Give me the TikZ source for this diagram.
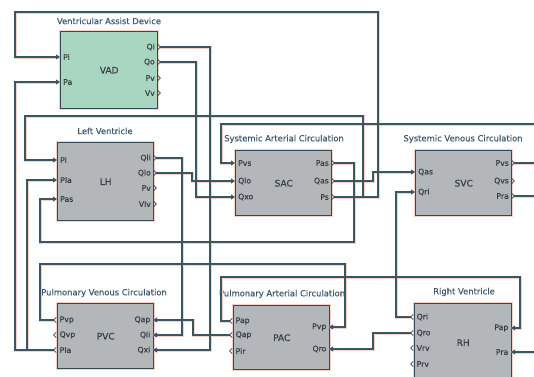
\documentclass[tikz,border=0pt]{standalone}
\usepackage{fontspec}
\setmainfont[FakeBold=0.3]{DejaVu Sans}
\usetikzlibrary{arrows.meta}

\definecolor{wirec}{HTML}{3A5662}
\definecolor{halo}{HTML}{F2D4CC}
\definecolor{blkgray}{HTML}{B4B7B9}
\definecolor{blkgreen}{HTML}{A8D6C0}
\definecolor{edgec}{HTML}{384850}
\definecolor{titlec}{HTML}{3F5A70}
\definecolor{labc}{HTML}{343C44}

% all signal lines of the model; drawn twice (halo pass, then line pass)
\newcommand{\wiring}{%
  % SAC Ps feeds the pressure inputs of VAD and LH
  \draw[wire] (sac-ps) -| (378,12) -| (15,57) -- (vad-pi);
  \draw[wire] (sac-ps) -| (363,116) -| (25,160) -- (lh-pi);
  % SAC -> LH, SAC -> SVC
  \draw[wire] (sac-pas) -| (354,242) -| (40,199) -- (lh-pas);
  \draw[wire] (sac-qas) -| (373,172) -- (svc-qas);
  % SVC outputs, routed round the right side
  \draw[wire] (svc-pvs) -| (545,124) -| (221,163) -- (sac-pvs);
  \draw[wire] (svc-pra) -| (545,352) -- (rh-pra);
  % RH -> SVC, RH -> PAC
  \draw[wire] (rh-qri) -| (396,192) -- (svc-qri);
  \draw[wire] (rh-qro) -| (373,349) -- (pac-qro);
  % PAC <-> RH, PVC <-> PAC
  \draw[wire] (pac-pap) -| (221,277) -| (520,328) -- (rh-pap);
  \draw[wire] (pvc-pvp) -| (40,264) -| (345,327) -- (pac-pvp);
  \draw[wire] (pac-qap) -| (193,320) -- (pvc-qap);
  % flows into PVC
  \draw[wire] (lh-qli) -| (182,335) -- (pvc-qli);
  \draw[wire] (vad-qi) -| (210,350) -- (pvc-qxi);
  % flows into SAC
  \draw[wire] (vad-qo) -| (196,197) -- (sac-qxo);
  \draw[wire] (lh-qlo) -| (192,181) -- (sac-qlo);
  % PVC Pla back to VAD and LH
  \draw[wire] (pvc-pla) -| (15,82) -- (vad-pa);
  \draw[wire] (pvc-pla) -| (27,180) -- (lh-pla);
}

\begin{document}
\begin{tikzpicture}[x=1pt,y=-1pt,
  blk/.style={draw=edgec, line width=1.4pt, fill=blkgray, anchor=north west,
    inner sep=0pt, text=labc, font=\fontsize{9}{10}\selectfont,
    preaction={draw=halo, line width=3pt}},
  blktitle/.style={text=titlec, inner sep=0pt, font=\fontsize{8.4}{9}\selectfont},
  plab/.style={text=labc, inner sep=0pt, font=\fontsize{7.7}{8}\selectfont},
  chev/.style={draw=edgec, line width=0.8pt},
  tip/.style={-{Triangle[length=4pt,width=4.8pt]}},
]
\useasboundingbox[fill=white] (0,0) rectangle (534,376);

% ---- blocks ----
\node[blk, fill=blkgreen, minimum width=97pt, minimum height=77pt] (vad) at (60,31) {VAD};
\node[blk, minimum width=96pt, minimum height=78pt] (lh)  at (57,142) {LH};
\node[blk, minimum width=96pt, minimum height=65pt] (sac) at (235,150) {SAC};
\node[blk, minimum width=96pt, minimum height=65pt] (svc) at (415,150) {SVC};
\node[blk, minimum width=96pt, minimum height=65pt] (pvc) at (57,303) {PVC};
\node[blk, minimum width=96pt, minimum height=64pt] (pac) at (233,305) {PAC};
\node[blk, minimum width=97pt, minimum height=78pt] (rh)  at (414,303) {RH};

% ---- block titles ----
\node[blktitle] (vad-title) at (109,21)  {Ventricular Assist Device};
\node[blktitle] (lh-title)  at (105,131) {Left Ventricle};
\node[blktitle] (sac-title) at (284,139) {Systemic Arterial Circulation};
\node[blktitle] (svc-title) at (463,139) {Systemic Venous Circulation};
\node[blktitle] (pvc-title) at (104,293) {Pulmonary Venous Circulation};
\node[blktitle] (pac-title) at (282,294) {Pulmonary Arterial Circulation};
\node[blktitle] (rh-title)  at (464,292) {Right Ventricle};

% ---- ports ----
% inputs on the left edge
\foreach \b/\x/\n/\t/\y in {vad/60/pi/Pi/57, vad/60/pa/Pa/82,
    lh/57/pi/Pi/160, lh/57/pla/Pla/180, lh/57/pas/Pas/199,
    sac/235/pvs/Pvs/163, sac/235/qlo/Qlo/181, sac/235/qxo/Qxo/197,
    svc/415/qas/Qas/172, svc/415/qri/Qri/192} {
  \coordinate (\b-\n) at (\x,\y);
  \node[plab, anchor=west] (\b-\n-lbl) at (\x+3,\y) {\t};
}
% outputs on the right edge
\foreach \b/\x/\n/\t/\y in {vad/157/qi/Qi/47, vad/157/qo/Qo/62, vad/157/pv/Pv/78, vad/157/vv/Vv/93,
    lh/153/qli/Qli/158, lh/153/qlo/Qlo/173, lh/153/pv/Pv/188, lh/153/vlv/Vlv/204,
    sac/331/pas/Pas/163, sac/331/qas/Qas/181, sac/331/ps/Ps/197,
    svc/511/pvs/Pvs/163, svc/511/qvs/Qvs/181, svc/511/pra/Pra/196} {
  \coordinate (\b-\n) at (\x+3.4,\y);
  \node[plab, anchor=east] (\b-\n-lbl) at (\x-2,\y) {\t};
  \draw[chev] (\x+0.8,\y-2.6) -- (\x+3.4,\y) -- (\x+0.8,\y+2.6);
}
% inputs on the right edge (flipped blocks)
\foreach \b/\x/\n/\t/\y in {pvc/153/qap/Qap/320, pvc/153/qli/Qli/335, pvc/153/qxi/Qxi/350,
    pac/329/pvp/Pvp/327, pac/329/qro/Qro/349,
    rh/511/pap/Pap/328, rh/511/pra/Pra/352} {
  \coordinate (\b-\n) at (\x,\y);
  \node[plab, anchor=east] (\b-\n-lbl) at (\x-2.5,\y) {\t};
}
% outputs on the left edge (flipped blocks)
\foreach \b/\x/\n/\t/\y in {pvc/57/pvp/Pvp/320, pvc/57/qvp/Qvp/335, pvc/57/pla/Pla/350,
    pac/233/pap/Pap/321, pac/233/qap/Qap/335, pac/233/pir/Pir/351,
    rh/414/qri/Qri/317, rh/414/qro/Qro/333, rh/414/vrv/Vrv/348, rh/414/prv/Prv/364} {
  \coordinate (\b-\n) at (\x-3.4,\y);
  \node[plab, anchor=west] (\b-\n-lbl) at (\x+2.5,\y) {\t};
  \draw[chev] (\x-0.8,\y-2.6) -- (\x-3.4,\y) -- (\x-0.8,\y+2.6);
}

% ---- signal lines ----
\begin{scope}[wire/.style={draw=halo, line width=3pt, tip}]
  \wiring
\end{scope}
\begin{scope}[wire/.style={draw=wirec, line width=1.3pt, tip}]
  \wiring
\end{scope}
\end{tikzpicture}
\end{document}
